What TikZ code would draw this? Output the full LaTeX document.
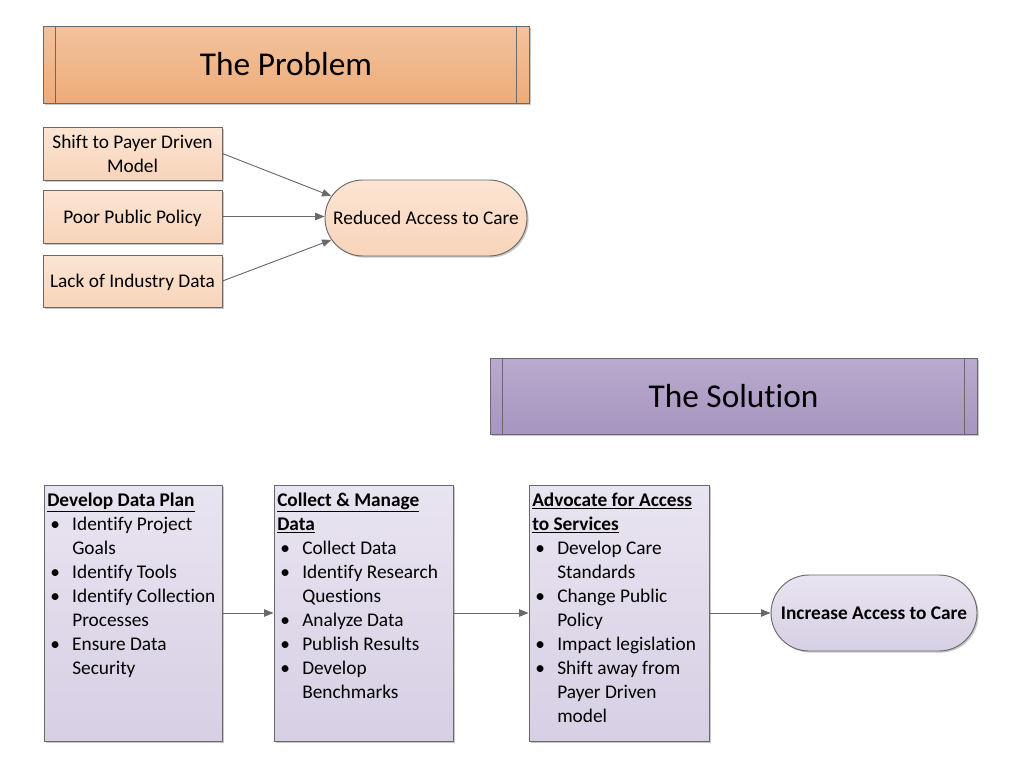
\documentclass[tikz,border=0pt]{standalone}
\usepackage{fontspec}
\setmainfont{Carlito}[Ligatures=NoCommon]
\usetikzlibrary{arrows.meta,shapes.misc,shadows}
\definecolor{edgec}{RGB}{105,105,105}
\definecolor{orTop}{RGB}{243,194,156}
\definecolor{orBot}{RGB}{237,172,122}
\definecolor{lorTop}{RGB}{252,229,212}
\definecolor{lorBot}{RGB}{248,212,186}
\definecolor{puTop}{RGB}{186,170,206}
\definecolor{puBot}{RGB}{166,150,192}
\definecolor{lpuTop}{RGB}{233,228,241}
\definecolor{lpuBot}{RGB}{215,207,228}
\newcommand\bl{\makebox[18.75pt][l]{\hspace{2.25pt}\textbullet}}
\newcommand\ind{\hspace*{18.75pt}}
\tikzset{
  shd/.style={drop shadow={shadow xshift=1.2pt,shadow yshift=-1.2pt,fill=black,opacity=0.22}},
  base/.style={draw=edgec, line width=0.7pt, shd},
  hdr/.style={base, font=\fontsize{25}{30}\selectfont, inner sep=0pt},
  smallbox/.style={base, top color=lorTop, bottom color=lorBot, minimum width=134.25pt, minimum height=39.75pt, align=center, inner sep=0pt, font=\fontsize{14.5}{18}\selectfont},
  oneline/.style={text height=13pt, text depth=3pt},
  stadium/.style={base, rounded rectangle, minimum height=57pt, inner sep=0pt, font=\fontsize{14.5}{18}\selectfont},
  bigbox/.style={base, top color=lpuTop, bottom color=lpuBot, minimum height=192pt, inner sep=0pt},
  boxtext/.style={anchor=base west, align=left, inner sep=0pt, font=\fontsize{14.5}{18}\selectfont},
  arr/.style={draw=edgec, line width=0.7pt, -{Triangle[length=7pt,width=5.5pt]}},
  sep/.style={draw=edgec, line width=0.7pt}
}
\begin{document}
\begin{tikzpicture}[x=0.75pt,y=-0.75pt]
\useasboundingbox (0,0) rectangle (1024,768);
% The Problem
\node[hdr, top color=orTop, bottom color=orBot, minimum width=364.5pt, minimum height=57.75pt] (prob) at (286,64.5) {The Problem};
\draw[sep] ([xshift=9.75pt]prob.north west) -- ([xshift=9.75pt]prob.south west);
\draw[sep] ([xshift=-9.75pt]prob.north east) -- ([xshift=-9.75pt]prob.south east);
\node[smallbox] (shift) at (132.5,153.5) {Shift to Payer Driven\\Model};
\node[smallbox, oneline] (poor) at (132.5,216.5) {Poor Public Policy};
\node[smallbox, oneline, minimum height=39pt] (lack) at (132.5,281) {Lack of Industry Data};
\node[stadium, top color=lorTop, bottom color=lorBot, minimum width=151.5pt] (red) at (426,218) {Reduced Access to Care};
\draw[arr] (shift.east) -- (red.167);
\draw[arr] (poor.east) -- (poor.east -| red.west);
\draw[arr] (lack.east) -- (red.193);
% The Solution
\node[hdr, top color=puTop, bottom color=puBot, minimum width=365.25pt, minimum height=57pt] (sol) at (733.5,396) {The Solution};
\draw[sep] ([xshift=9.75pt]sol.north west) -- ([xshift=9.75pt]sol.south west);
\draw[sep] ([xshift=-9.75pt]sol.north east) -- ([xshift=-9.75pt]sol.south east);
\node[bigbox, minimum width=133.5pt] (b1) at (133,613) {};
\node[bigbox, minimum width=134.25pt] (b2) at (363.5,613) {};
\node[bigbox, minimum width=135pt] (b3) at (619,613) {};
\node[stadium, top color=lpuTop, bottom color=lpuBot, minimum width=154.5pt, font=\fontsize{14.5}{18}\selectfont\bfseries] (inc) at (874,613) {Increase Access to Care};
% text blocks: anchored at the baseline of their last line (first line baseline at y=506, 24px pitch)
\node[boxtext] (t1) at (47,674) {\underline{\textbf{Develop Data Plan}}\\
\bl Identify Project\\ \ind Goals\\ \bl Identify Tools\\ \bl Identify Collection\\ \ind Processes\\ \bl Ensure Data\\ \ind Security};
\node[boxtext] (t2) at (277,698) {\underline{\textbf{Collect \& Manage}}\\ \underline{\textbf{Data}}\\
\bl Collect Data\\ \bl Identify Research\\ \ind Questions\\ \bl Analyze Data\\ \bl Publish Results\\ \bl Develop\\ \ind Benchmarks};
\node[boxtext] (t3) at (532,722) {\underline{\textbf{Advocate for Access}}\\ \underline{\textbf{to Services}}\\
\bl Develop Care\\ \ind Standards\\ \bl Change Public\\ \ind Policy\\ \bl Impact legislation\\ \bl Shift away from\\ \ind Payer Driven\\ \ind model};
\draw[arr] (b1.east) -- (b2.west);
\draw[arr] (b2.east) -- (b3.west);
\draw[arr] (b3.east) -- (inc.west);
\end{tikzpicture}
\end{document}
